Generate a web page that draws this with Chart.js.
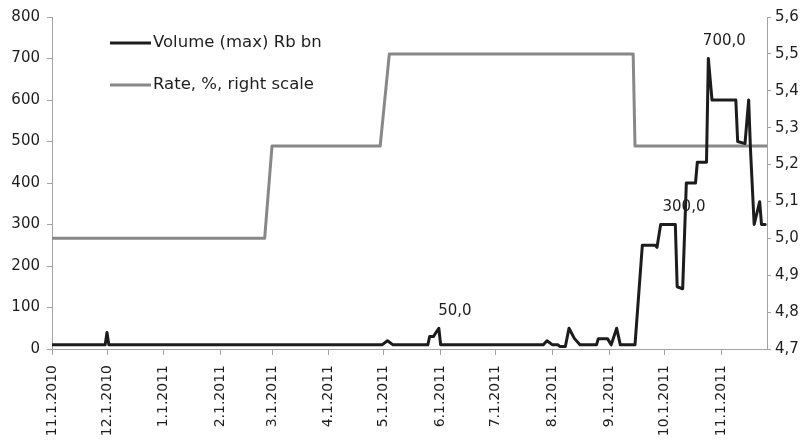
<!DOCTYPE html>
<html lang="en">
  <head>
    <meta charset="utf-8" />
    <title>Volume and rate</title>
    <style>
      * {
        margin: 0;
        padding: 0;
      }
      body {
        background: #fff;
      }
      .chartBox {
        width: 804px;
        height: 445px;
      }
    </style>
  </head>
  <body>
    <div class="chartBox">
      <canvas id="myChart"></canvas>
    </div>
    <script src="https://cdn.jsdelivr.net/npm/chart.js/dist/chart.umd.min.js"></script>
    <script>
      // data
      const volumeDates = [
        "2010-11-01", "2010-11-30", "2010-12-01", "2010-12-02",
        "2011-04-30", "2011-05-03", "2011-05-06",
        "2011-05-25", "2011-05-26", "2011-05-28", "2011-05-31", "2011-06-01",
        "2011-07-27", "2011-07-29", "2011-08-01", "2011-08-04", "2011-08-05",
        "2011-08-08", "2011-08-10", "2011-08-13", "2011-08-16",
        "2011-08-25", "2011-08-26", "2011-08-31", "2011-09-02", "2011-09-05",
        "2011-09-07", "2011-09-15", "2011-09-19", "2011-09-26", "2011-09-27",
        "2011-09-29", "2011-10-03", "2011-10-07", "2011-10-08", "2011-10-11",
        "2011-10-13", "2011-10-18", "2011-10-19", "2011-10-24", "2011-10-25",
        "2011-10-27", "2011-11-09", "2011-11-10", "2011-11-14", "2011-11-16",
        "2011-11-17", "2011-11-19", "2011-11-22", "2011-11-23", "2011-11-25",
      ];
      const volumeValues = [
        10, 10, 40, 10,
        10, 20, 10,
        10, 30, 30, 50, 10,
        10, 20, 10, 10, 6,
        6, 50, 25, 10,
        10, 25, 25, 10, 50,
        10, 10, 250, 250, 245,
        300, 300, 300, 150, 145,
        400, 400, 450, 450, 700,
        600, 600, 500, 495, 600,
        480, 300, 355, 300, 300,
      ];
      const rateDates = [
        "2010-11-01", "2011-02-25", "2011-03-01", "2011-04-29",
        "2011-05-04", "2011-09-14", "2011-09-15", "2011-11-26",
      ];
      const rateValues = [5.0, 5.0, 5.25, 5.25, 5.5, 5.5, 5.25, 5.25];
      const monthTicks = [
        "2010-11-01", "2010-12-01", "2011-01-01", "2011-02-01", "2011-03-01",
        "2011-04-01", "2011-05-01", "2011-06-01", "2011-07-01", "2011-08-01",
        "2011-09-01", "2011-10-01", "2011-11-01",
      ];
      const labelledDates = ["2011-05-31", "2011-10-03", "2011-10-25"];
      const axisEnd = "2011-11-26";

      const dayIndex = (s) => {
        const [y, m, d] = s.split("-").map(Number);
        return (Date.UTC(y, m - 1, d) - Date.UTC(2010, 10, 1)) / 86400000;
      };
      const dateLabel = (s) => {
        const [y, m, d] = s.split("-").map(Number);
        return m + "." + d + "." + y;
      };
      const comma = (v) => v.toFixed(1).replace(".", ",");

      const FONT = "'DejaVu Sans', sans-serif";
      const TEXT = "#1e1e1e";
      const AXIS = "#a3a3a3";
      Chart.defaults.font.family = FONT;
      Chart.defaults.font.size = 15;
      Chart.defaults.color = TEXT;

      // legend inside the plot, top left
      const insideLegend = {
        id: "insideLegend",
        afterDraw(chart) {
          const ctx = chart.ctx;
          ctx.save();
          ctx.font = "16.5px " + FONT;
          ctx.textBaseline = "middle";
          ctx.fillStyle = TEXT;
          chart.data.datasets.forEach((ds, i) => {
            const y = 43 + i * 42;
            ctx.strokeStyle = ds.borderColor;
            ctx.lineWidth = 3;
            ctx.beginPath();
            ctx.moveTo(110, y);
            ctx.lineTo(151, y);
            ctx.stroke();
            ctx.fillText(ds.label, 153, y);
          });
          ctx.restore();
        },
      };

      // value labels on a few volume points
      const valueLabels = {
        id: "valueLabels",
        afterDatasetsDraw(chart) {
          const ctx = chart.ctx;
          const xs = chart.scales.x;
          const ys = chart.scales.y;
          ctx.save();
          ctx.font = "15px " + FONT;
          ctx.fillStyle = TEXT;
          ctx.textAlign = "center";
          ctx.textBaseline = "middle";
          labelledDates.forEach((d) => {
            const i = volumeDates.indexOf(d);
            const v = volumeValues[i];
            const px = xs.getPixelForValue(dayIndex(d));
            const py = ys.getPixelForValue(v);
            ctx.fillText(comma(v), px + 16, py - 17);
          });
          ctx.restore();
        },
      };

      const data = {
        datasets: [
          {
            label: "Volume (max) Rb bn",
            data: volumeDates.map((d, i) => ({ x: dayIndex(d), y: volumeValues[i] })),
            borderColor: "#1c1c1c",
            borderWidth: 3,
            yAxisID: "y",
          },
          {
            label: "Rate, %, right scale",
            data: rateDates.map((d, i) => ({ x: dayIndex(d), y: rateValues[i] })),
            borderColor: "#888888",
            borderWidth: 3,
            yAxisID: "y1",
          },
        ],
      };

      const config = {
        type: "line",
        data,
        options: {
          responsive: true,
          maintainAspectRatio: false,
          animation: false,
          layout: { padding: { top: 17, left: 0, right: 0, bottom: 0 } },
          elements: {
            point: { radius: 0 },
            line: { tension: 0, borderJoinStyle: "round", borderCapStyle: "round" },
          },
          plugins: {
            legend: { display: false },
            tooltip: { enabled: false },
          },
          scales: {
            x: {
              type: "linear",
              min: 0,
              max: dayIndex(axisEnd),
              afterBuildTicks(scale) {
                scale.ticks = monthTicks.map((d) => ({ value: dayIndex(d) }));
              },
              afterFit(scale) {
                scale.height = 96;
              },
              ticks: {
                autoSkip: false,
                maxRotation: 90,
                minRotation: 90,
                padding: 10,
                font: { size: 14 },
                callback(value) {
                  const d = monthTicks.find((m) => dayIndex(m) === value);
                  return d ? dateLabel(d) : "";
                },
              },
              grid: { drawOnChartArea: false, tickLength: 6, color: AXIS },
              border: { color: AXIS },
            },
            y: {
              position: "left",
              min: 0,
              max: 800,
              afterFit(scale) {
                scale.width = 52;
              },
              ticks: { stepSize: 100, padding: 7 },
              grid: { drawOnChartArea: false, tickLength: 5, color: AXIS },
              border: { color: AXIS },
            },
            y1: {
              position: "right",
              min: 4.7,
              max: 5.6,
              afterFit(scale) {
                scale.width = 37;
              },
              ticks: {
                stepSize: 0.1,
                padding: 4,
                callback: (v) => comma(v),
              },
              grid: { drawOnChartArea: false, tickLength: 4, color: AXIS },
              border: { color: AXIS },
            },
          },
        },
        plugins: [insideLegend, valueLabels],
      };

      const myChart = new Chart(document.getElementById("myChart"), config);
    </script>
  </body>
</html>
